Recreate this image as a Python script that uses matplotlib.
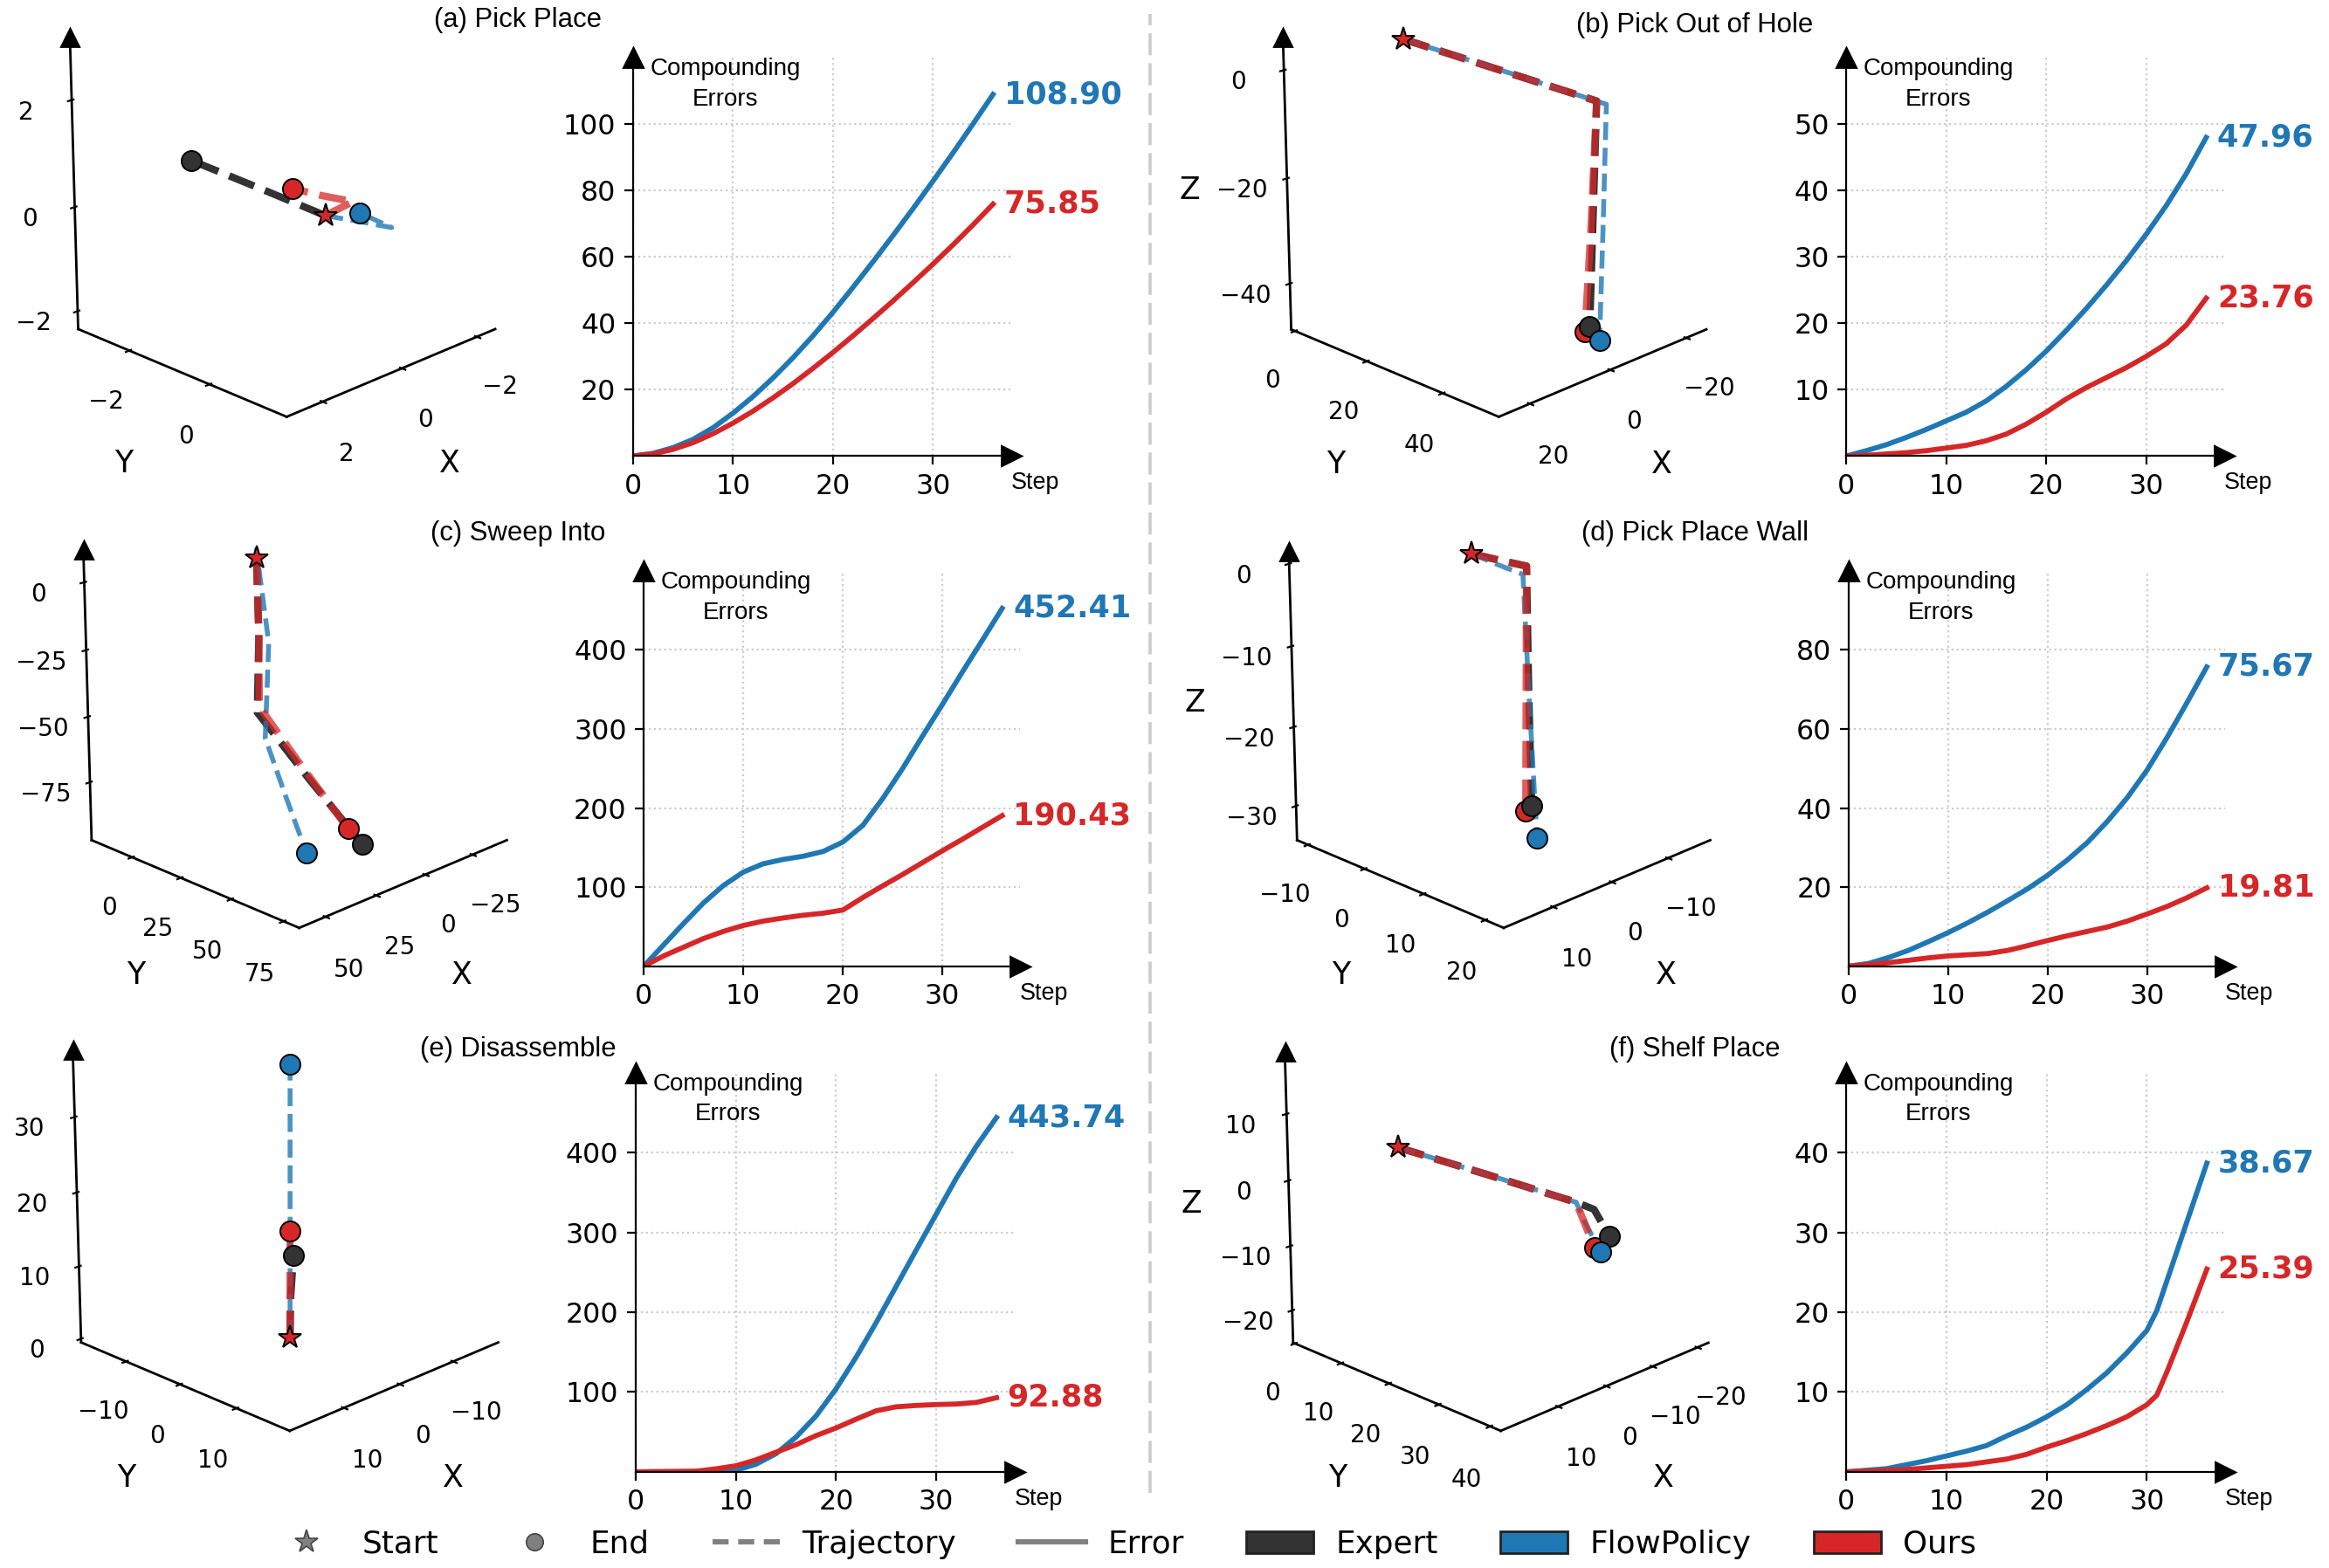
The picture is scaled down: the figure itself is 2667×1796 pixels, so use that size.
import numpy as np
import matplotlib
matplotlib.use("Agg")
import matplotlib.pyplot as plt
from matplotlib.lines import Line2D
from matplotlib.patches import Patch
from matplotlib.transforms import offset_copy
from mpl_toolkits.mplot3d import proj3d

W, H, DPI = 2667, 1796, 200

EXPERT = "#333333"
FLOW = "#1f77b4"
OURS = "#d62728"

# ---------------- compounding error curves ----------------
steps = list(range(0, 37, 2))

a_flow_err = [0, 0.8, 2.5, 5.0, 8.5, 12.9, 17.9, 23.5, 29.6, 36.2, 43.3, 50.8, 58.5, 66.4, 74.5, 82.8, 91.3, 100.0, 108.90]
a_ours_err = [0, 0.6, 2.0, 4.0, 6.7, 9.9, 13.5, 17.5, 21.8, 26.4, 31.2, 36.2, 41.4, 46.7, 52.2, 57.8, 63.6, 69.6, 75.85]

b_flow_err = [0, 0.8, 1.7, 2.8, 4.0, 5.3, 6.6, 8.3, 10.5, 13, 15.8, 18.9, 22.2, 25.7, 29.4, 33.4, 37.7, 42.5, 47.96]
b_ours_err = [0, 0.1, 0.3, 0.5, 0.8, 1.2, 1.6, 2.3, 3.3, 4.8, 6.6, 8.6, 10.3, 11.8, 13.3, 15, 16.9, 19.7, 23.76]

c_flow_err = [0, 27, 54, 80, 102, 119, 129.5, 135, 139, 145, 157, 178, 212, 250, 291, 331, 372, 412, 452.41]
c_ours_err = [0, 13, 24, 35, 44, 51.5, 57, 61, 64.4, 67, 71, 86.8, 101.6, 116, 131, 146, 160.5, 175.5, 190.43]

d_flow_err = [0, 0.7, 2.2, 4, 6.2, 8.5, 11, 13.7, 16.6, 19.6, 23, 26.9, 31.3, 36.6, 42.6, 49.6, 57.8, 66.6, 75.67]
d_ours_err = [0, 0.4, 0.9, 1.5, 2.1, 2.6, 2.9, 3.2, 4, 5.2, 6.5, 7.7, 8.8, 9.9, 11.4, 13.2, 15.1, 17.3, 19.81]

e_flow_err = [0, 0.2, 0.3, 0.4, 0.6, 2, 9.5, 22.7, 43.5, 70, 104, 143.7, 187, 232.5, 278, 323, 368, 408, 443.74]
e_ours_err = [0, 0.3, 0.5, 0.8, 3.8, 7.6, 15, 24.6, 34, 45.4, 55, 66, 76.5, 81.5, 83.2, 84.3, 85, 87, 92.88]

f_steps = [0, 2, 4, 6, 8, 10, 12, 14, 16, 18, 20, 22, 24, 26, 28, 30, 31, 32, 34, 36]
f_flow_err = [0, 0.2, 0.4, 0.9, 1.4, 2.0, 2.6, 3.3, 4.5, 5.6, 6.9, 8.4, 10.3, 12.4, 14.9, 17.7, 20.2, 23.9, 31.3, 38.67]
f_ours_err = [0, 0.1, 0.2, 0.3, 0.5, 0.7, 0.9, 1.25, 1.6, 2.2, 3.1, 3.9, 4.8, 5.8, 6.9, 8.4, 9.6, 12.5, 18.8, 25.39]

# ---------------- 3D trajectories: [x], [y], [z] waypoints ----------------
a_expert = [[0, 0.8, 1.62], [0, -0.83, -1.66], [0, 0.5, 1.0]]
a_flow = [[0, -0.3, -0.59, -0.44], [0, 0.5, 1.02, 0.40], [0, -0.05, -0.1, 0.05]]
a_ours = [[0, -0.47, 0.0, 0.4], [0, 0.22, -0.1, -0.4], [0, 0.2, 0.35, 0.5]]

b_expert = [[0, -1.5, -3, -3, -3], [0, 23.5, 47, 46.5, 46], [0, -1, -2, -23, -44]]
b_flow = [[0, -2, -4, -3.6, -3.1], [0, 24, 48.4, 48.4, 48.4], [0, -1.2, -2.5, -25, -46]]
b_ours = [[0, -1.5, -3, -2.5, -2.5], [0, 23.5, 47, 46.5, 45.3], [0, -1, -2, -25, -45]]

c_expert = [[0, -1, 0, 3.5, 7], [0, 0, 0, 30, 59], [0, -29, -59, -76, -91]]
c_flow = [[0, 0, -3, -2, 13, 28], [0, 0, 3, 2, 27, 52], [0, 3, -32, -69, -80, -90]]
c_ours = [[0, -1, -1, 4, 9], [0, 0, 0, 27, 54], [0, -30, -57, -72, -86]]

d_expert = [[0, -1.2, -2.3, -2.5, -2.8], [0, 3.4, 6.8, 7, 7.3], [0, -0.3, -0.5, -15, -30.3]]
d_flow = [[0, -1, -2, -2.2, -2.5], [0, 3.3, 6.5, 7.5, 8.5], [0, -0.8, -1.5, -18, -34]]
d_ours = [[0, -1.2, -2.3, -2.3, -2.3], [0, 3.4, 6.8, 6.8, 6.8], [0, -0.3, -0.5, -15, -31]]

e_expert = [[0, 0, -0.3], [0, 0.1, 0.3], [0, 5.5, 11.3]]
e_flow = [[0, 0, 0], [0, 0, 0], [0, 18, 36.7]]
e_ours = [[0, 0, 0, 0], [0, 0, 0, 0], [0, 5, 10, 14.6]]

f_expert = [[0, -6, -11.8, -13.5, -14.9], [0, 12.5, 25.2, 27.2, 29], [0, -2.5, -5, -6, -10]]
f_flow = [[0, -6, -11.8, -12.5, -14.1], [0, 12.5, 25.2, 26.4, 28], [0, -2.5, -5, -8, -12.5]]
f_ours = [[0, -6, -11.8, -12.5, -13.7], [0, 12.5, 25.2, 26.2, 27.2], [0, -2.5, -5, -8, -12]]

titles = ["(a) Pick Place", "(b) Pick Out of Hole", "(c) Sweep Into",
          "(d) Pick Place Wall", "(e) Disassemble", "(f) Shelf Place"]

# frame: left corner, bottom corner, right corner (x, y from top, px) and top of vertical axis (y)
panels = [
    dict(traj=(a_expert, a_flow, a_ours), lims=((-2.51, 2.87), (-3.34, 1.82), (-2.35, 3.0)),
         ticks=([-2, 0, 2], [-2, 0], [-2, 0, 2]),
         frame=((89.5, 376.9), (327.3, 477.4), (567.1, 376.9), 52.0),
         steps=steps, flow=a_flow_err, ours=a_ours_err, ytop=120, yticks=[20, 40, 60, 80, 100],
         err_rect=[0.2718, 0.7092, 0.1623, 0.2541], title_xy=(0.2223, 0.987)),
    dict(traj=(b_expert, b_flow, b_ours), lims=((-25.5, 27.4), (-1.1, 54.1), (-48.9, 4.5)),
         ticks=([-20, 0, 20], [0, 20, 40], [-40, -20, 0]),
         frame=((1478.6, 377.3), (1715.2, 477.4), (1954.0, 377.3), 52.0),
         steps=steps, flow=b_flow_err, ours=b_ours_err, ytop=60, yticks=[10, 20, 30, 40, 50],
         err_rect=[0.7928, 0.7092, 0.1622, 0.2541], title_xy=(0.7277, 0.984)),
    dict(traj=(c_expert, c_flow, c_ours), lims=((-43.8, 62.6), (-21.5, 82.3), (-97.5, 8.8)),
         ticks=([-25, 0, 25, 50], [0, 25, 50, 75], [-75, -50, -25, 0]),
         frame=((104.9, 962.3), (341.5, 1062.8), (580.4, 962.3), 639.2),
         steps=steps, flow=c_flow_err, ours=c_ours_err, ytop=500, yticks=[100, 200, 300, 400],
         err_rect=[0.2764, 0.3838, 0.1616, 0.2522], title_xy=(0.2223, 0.6598)),
    dict(traj=(d_expert, d_flow, d_ours), lims=((-17.8, 18.1), (-12, 22.9), (-34.4, 0.5)),
         ticks=([-10, 0, 10], [-10, 0, 10, 20], [-30, -20, -10, 0]),
         frame=((1485.3, 962.3), (1721.9, 1062.8), (1958.5, 962.3), 641.0),
         steps=steps, flow=d_flow_err, ours=d_ours_err, ytop=100, yticks=[20, 40, 60, 80],
         err_rect=[0.7938, 0.3838, 0.1614, 0.2522], title_xy=(0.7277, 0.6598)),
    dict(traj=(e_expert, e_flow, e_ours), lims=((-18.7, 19.35), (-18.6, 19.1), (-0.5, 37.7)),
         ticks=([-10, 0, 10], [-10, 0, 10], [0, 10, 20, 30]),
         frame=((92.9, 1537.6), (330.4, 1638.9), (570.5, 1537.6), 1211.7),
         steps=steps, flow=e_flow_err, ours=e_ours_err, ytop=500, yticks=[100, 200, 300, 400],
         err_rect=[0.2729, 0.0613, 0.1627, 0.2546], title_xy=(0.2223, 0.331)),
    dict(traj=(f_expert, f_flow, f_ours), lims=((-22.5, 21.5), (-0.4, 42.0), (-25.1, 17.9)),
         ticks=([-20, -10, 0, 10], [0, 10, 20, 30, 40], [-20, -10, 0, 10]),
         frame=((1480.8, 1538.0), (1717.4, 1638.9), (1956.3, 1538.0), 1214.6),
         steps=f_steps, flow=f_flow_err, ours=f_ours_err, ytop=50, yticks=[10, 20, 30, 40],
         err_rect=[0.7928, 0.0613, 0.1625, 0.2546], title_xy=(0.7277, 0.331)),
]

fig = plt.figure(figsize=(W / DPI, H / DPI), dpi=DPI)

ax3ds = []
views = []
for i, p in enumerate(panels):
    # rough square start; refined below so the axis frame lands where it should
    (lx, ly), (bx, by), (rx, ry), _ = p["frame"]
    side = 1.45 * (rx - lx)
    cx = (lx + rx) / 2
    rect = [(cx - side / 2) / W, (H - by - 0.15 * side) / H, side / W, side / H]
    ax = fig.add_axes(rect, projection="3d", computed_zorder=False)
    views.append([20.0, 1.01])
    ax.view_init(elev=20, azim=45)
    ax.set_box_aspect((1, 1, 1.01))
    ax.patch.set_alpha(0)
    ax.grid(False)
    for axis in (ax.xaxis, ax.yaxis, ax.zaxis):
        axis.pane.fill = False
        axis.pane.set_edgecolor("none")
        axis.line.set_color("black")
        axis.line.set_linewidth(1.0)
    (xl, yl, zl) = p["lims"]
    ax.set_xlim(*xl)
    ax.set_ylim(*yl)
    ax.set_zlim(*zl)
    ax.set_xticks(p["ticks"][0])
    ax.set_yticks(p["ticks"][1])
    ax.set_zticks(p["ticks"][2])
    ax.tick_params(labelsize=10)
    ax.set_xlabel("X", fontsize=12.5, labelpad=6)
    ax.set_ylabel("Y", fontsize=12.5, labelpad=6)
    ax.set_zlabel("Z", fontsize=12.5)

    expert, flow, ours = p["traj"]
    ax.plot(*expert, color=EXPERT, lw=3.0, ls="--", zorder=1)
    ax.plot(*flow, color=FLOW, lw=2.0, ls="--", alpha=0.8, zorder=2)
    ax.plot(*ours, color=OURS, lw=3.0, ls="--", alpha=0.75, zorder=3)
    ax.plot([ours[0][-1]], [ours[1][-1]], [ours[2][-1]], "o", ms=8.3, mfc=OURS, mec="black", mew=0.7, zorder=4)
    ax.plot([expert[0][-1]], [expert[1][-1]], [expert[2][-1]], "o", ms=8.3, mfc=EXPERT, mec="black", mew=0.7, zorder=5)
    ax.plot([flow[0][-1]], [flow[1][-1]], [flow[2][-1]], "o", ms=8.3, mfc=FLOW, mec="black", mew=0.7, zorder=6)
    ax.plot([expert[0][0]], [expert[1][0]], [expert[2][0]], "*", ms=10, mfc=OURS, mec="black", mew=0.7, zorder=7)
    ax3ds.append(ax)

    # error panel
    ea = fig.add_axes(p["err_rect"])
    ea.set_facecolor("none")
    ea.plot(p["steps"], p["flow"], color=FLOW, lw=2.1)
    ea.plot(p["steps"], p["ours"], color=OURS, lw=2.1)
    ea.set_xlim(0, 37.8)
    ea.set_ylim(0, p["ytop"])
    ea.set_xticks([0, 10, 20, 30])
    ea.set_yticks(p["yticks"])
    ea.tick_params(labelsize=11.4)
    ea.grid(True, ls=":", color="#cccccc", lw=0.8)
    ea.spines[["top", "right"]].set_visible(False)
    ea.plot(1, 0, ">k", ms=8, transform=ea.get_yaxis_transform(), clip_on=False)
    ea.plot(0, 1, "^k", ms=8, transform=ea.get_xaxis_transform(), clip_on=False)
    ea.annotate(f"{p['flow'][-1]:.2f}", xy=(p["steps"][-1], p["flow"][-1]), xytext=(4.5, 0),
                textcoords="offset points", color=FLOW, fontweight="bold", fontsize=12.6, va="center")
    ea.annotate(f"{p['ours'][-1]:.2f}", xy=(p["steps"][-1], p["ours"][-1]), xytext=(4.5, 0),
                textcoords="offset points", color=OURS, fontweight="bold", fontsize=12.6, va="center")
    ea.annotate("Compounding\nErrors", xy=(0, 1), xycoords="axes fraction", xytext=(38, -11),
                textcoords="offset points", ha="center", va="center", multialignment="center",
                family="Liberation Sans", fontsize=10, linespacing=1.43)
    ea.annotate("Step", xy=(1, 0), xycoords="axes fraction", xytext=(0, -13.7),
                textcoords="offset points", ha="left", va="baseline",
                family="Liberation Sans", fontsize=9.7)

    fig.text(*p["title_xy"], titles[i], ha="center", va="center", family="Liberation Sans", fontsize=11.2)


def fit_frames(adjust_view):
    fig.canvas.draw()
    for k, (p, ax) in enumerate(zip(panels, ax3ds)):
        (lx, ly), (bx, by), (rx, ry), tz = p["frame"]
        pts = np.vstack([ax.xaxis.line.get_xydata(), ax.yaxis.line.get_xydata()])
        disp = ax.transData.transform(pts)
        cl = disp[np.argmin(disp[:, 0])]
        cr = disp[np.argmax(disp[:, 0])]
        cb = disp[np.argmin(disp[:, 1])]
        s = (rx - lx) / (cr[0] - cl[0])
        if adjust_view:
            elev, zasp = views[k]
            cur_drop = (cl[1] + cr[1]) / 2 - cb[1]
            tgt_drop = by - (ly + ry) / 2
            sin_e = np.sin(np.radians(elev)) * tgt_drop / (cur_drop * s)
            elev = float(np.degrees(np.arcsin(np.clip(sin_e, 0.05, 0.8))))
            zd = ax.transData.transform(ax.zaxis.line.get_xydata())
            cur_zlen = zd[:, 1].max() - zd[:, 1].min()
            zasp = zasp * (ly - tz) / (cur_zlen * s)
            views[k] = [elev, zasp]
            ax.view_init(elev=elev, azim=45)
            ax.set_box_aspect((1, 1, zasp))
        bb = ax.get_position()
        x0, y0, side = bb.x0 * W, bb.y0 * H, bb.width * W
        nx0 = (lx + rx) / 2 - ((cl[0] + cr[0]) / 2 - x0) * s
        ny0 = (H - by) - (cb[1] - y0) * s
        ax.set_position([nx0 / W, ny0 / H, side * s / W, side * s / H])


for it in range(6):
    fit_frames(True)
for it in range(2):
    fit_frames(False)

# arrow head on top of each vertical axis, placed at the projected z upper limit
fig.canvas.draw()
for ax in ax3ds:
    zline = ax.zaxis.line.get_xydata()
    low = zline[np.argmin(ax.transData.transform(zline)[:, 1])]
    xl, yl, zl = ax.get_xlim(), ax.get_ylim(), ax.get_zlim()
    best = None
    for cx in xl:
        for cy in yl:
            px, py, _ = proj3d.proj_transform(cx, cy, zl[0], ax.M)
            d = (px - low[0]) ** 2 + (py - low[1]) ** 2
            if best is None or d < best[0]:
                best = (d, cx, cy)
    px, py, _ = proj3d.proj_transform(best[1], best[2], zl[1], ax.M)
    top = ax.transData.transform((px, py))
    fig.add_artist(Line2D([top[0] / W], [top[1] / H], marker="^", ms=7, color="black",
                          transform=offset_copy(fig.transFigure, fig=fig, y=3.3, units="points")))

# divider between the two columns
fig.add_artist(Line2D([0.4938, 0.4938], [0.048, 0.991], transform=fig.transFigure,
                      color="#cccccc", lw=1.3, ls=(0, (7, 2.5))))

handles = [
    Line2D([], [], ls="none", marker="*", ms=10, mfc="#808080", mec="#444444", mew=0.6),
    Line2D([], [], ls="none", marker="o", ms=7, mfc="#808080", mec="#444444", mew=0.6),
    Line2D([], [], color="#808080", lw=2.2, ls=(0, (3, 1.8))),
    Line2D([], [], color="#808080", lw=2.2),
    Patch(fc=EXPERT, ec="#222222"),
    Patch(fc=FLOW, ec="#222222"),
    Patch(fc=OURS, ec="#222222"),
]
labels = ["Start", "End", "Trajectory", "Error", "Expert", "FlowPolicy", "Ours"]
fig.legend(handles, labels, loc="center", bbox_to_anchor=(0.4828, 0.0152), ncol=7, frameon=False,
           fontsize=12.9, handlelength=2.15, handletextpad=0.7, columnspacing=2.0)

fig.savefig("out.png", dpi=DPI)
